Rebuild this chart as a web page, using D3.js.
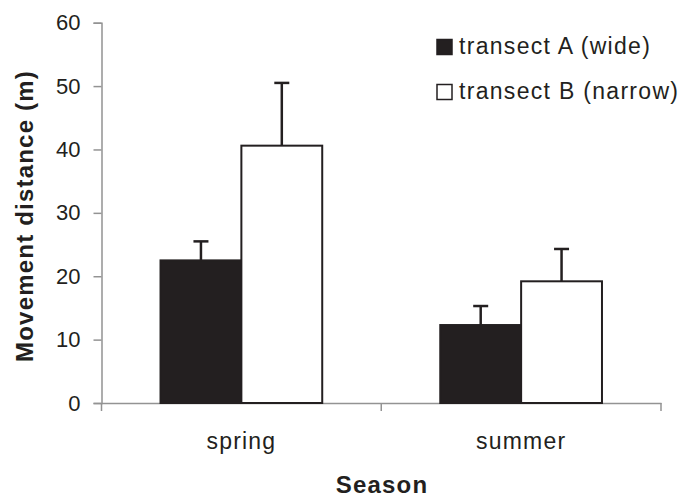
<!DOCTYPE html>
<html>
<head>
<meta charset="utf-8">
<script src="https://cdn.jsdelivr.net/npm/d3@7"></script>
<style>
  body { margin: 0; background: #fff; }
  text { font-family: "Liberation Sans", Arial, sans-serif; fill: #231f20; }
</style>
</head>
<body>
<div id="chart"></div>
<script>
var seasons = ["spring", "summer"];
var seriesNames = ["transect A (wide)", "transect B (narrow)"];
var meansA = [22.5, 12.3];
var meansB = [40.6, 19.2];
var errA = [3.0, 3.0];
var errB = [9.9, 5.1];
var yTicks = [0, 10, 20, 30, 40, 50, 60];

var w = 697, h = 498;
var margin = {left: 101.5, right: 36, top: 22.7, bottom: 95};

var svg = d3.select("#chart").append("svg")
    .attr("width", w)
    .attr("height", h);

var x = d3.scaleBand()
    .domain(seasons)
    .range([margin.left, w - margin.right])
    .paddingInner(0)
    .paddingOuter(0);

var inner = d3.scaleBand()
    .domain(seriesNames)
    .range([0, x.bandwidth()])
    .paddingOuter(0.73)
    .paddingInner(0);

var y = d3.scaleLinear()
    .domain([0, 60])
    .range([h - margin.bottom, margin.top]);

var axisColor = "#939393";
var ink = "#231f20";

// y axis
var yAxis = svg.append("g")
    .attr("transform", "translate(" + margin.left + ",0)")
    .call(d3.axisLeft(y).tickValues(yTicks).tickSize(8).tickPadding(13));
yAxis.select(".domain").attr("stroke", axisColor).attr("stroke-width", 1.5);
yAxis.selectAll(".tick line").attr("stroke", axisColor).attr("stroke-width", 1.5);
yAxis.selectAll(".tick text").attr("font-size", "22px").style("fill", ink)
    .attr("font-family", "Liberation Sans, Arial, sans-serif");

// x axis
var xAxis = svg.append("g")
    .attr("transform", "translate(0," + y(0) + ")")
    .call(d3.axisBottom(x).tickSize(0).tickPadding(30));
xAxis.select(".domain").attr("stroke", axisColor).attr("stroke-width", 1.5);
xAxis.selectAll(".tick text").attr("font-size", "23px").style("fill", ink)
    .style("letter-spacing", "1.2px")
    .attr("font-family", "Liberation Sans, Arial, sans-serif");
// category boundary ticks
var bounds = [x(seasons[0]), x(seasons[1]), x(seasons[1]) + x.bandwidth()];
svg.selectAll(".btick")
    .data(bounds)
    .enter()
    .append("line")
    .attr("x1", function(d) {return d;})
    .attr("x2", function(d) {return d;})
    .attr("y1", y(0))
    .attr("y2", y(0) + 8)
    .attr("stroke", axisColor)
    .attr("stroke-width", 1.5);

var rows = seasons.map(function(s, i) {
    return [
        {season: s, name: seriesNames[0], value: meansA[i], err: errA[i], fill: ink},
        {season: s, name: seriesNames[1], value: meansB[i], err: errB[i], fill: "#fff"}
    ];
});
var bars = [].concat.apply([], rows);

// error bars (drawn first so the bar outline sits on top)
var eb = svg.selectAll(".err")
    .data(bars)
    .enter()
    .append("g");
eb.append("line")
    .attr("x1", function(d) {return x(d.season) + inner(d.name) + inner.bandwidth() / 2;})
    .attr("x2", function(d) {return x(d.season) + inner(d.name) + inner.bandwidth() / 2;})
    .attr("y1", function(d) {return y(d.value);})
    .attr("y2", function(d) {return y(d.value + d.err);})
    .attr("stroke", ink)
    .attr("stroke-width", 2.5);
eb.append("line")
    .attr("x1", function(d) {return x(d.season) + inner(d.name) + inner.bandwidth() / 2 - 7.5;})
    .attr("x2", function(d) {return x(d.season) + inner(d.name) + inner.bandwidth() / 2 + 7.5;})
    .attr("y1", function(d) {return y(d.value + d.err);})
    .attr("y2", function(d) {return y(d.value + d.err);})
    .attr("stroke", ink)
    .attr("stroke-width", 2.5);

// bars
svg.selectAll(".bar")
    .data(bars)
    .enter()
    .append("rect")
    .attr("class", "bar")
    .attr("x", function(d) {return x(d.season) + inner(d.name);})
    .attr("y", function(d) {return y(d.value);})
    .attr("width", inner.bandwidth())
    .attr("height", function(d) {return y(0) - y(d.value);})
    .attr("fill", function(d) {return d.fill;})
    .attr("stroke", ink)
    .attr("stroke-width", 2);

// axis titles
svg.append("text")
    .attr("x", 382)
    .attr("y", 493)
    .attr("text-anchor", "middle")
    .attr("font-size", "24px")
    .style("letter-spacing", "1.2px")
    .style("font-weight", "bold")
    .text("Season");

svg.append("text")
    .attr("transform", "translate(33,216) rotate(-90)")
    .attr("text-anchor", "middle")
    .attr("font-size", "24px")
    .style("letter-spacing", "1.2px")
    .style("font-weight", "bold")
    .text("Movement distance (m)");

// legend
var legend = svg.selectAll(".legend")
    .data(seriesNames)
    .enter()
    .append("g")
    .attr("transform", function(d, i) {return "translate(437," + (39.5 + i * 45) + ")";});
legend.append("rect")
    .attr("width", 15)
    .attr("height", 15)
    .attr("fill", function(d, i) {return i === 0 ? ink : "#fff";})
    .attr("stroke", ink)
    .attr("stroke-width", 1.5);
legend.append("text")
    .attr("x", 22)
    .attr("y", 14.5)
    .attr("font-size", "23px")
    .style("letter-spacing", "1.3px")
    .text(function(d) {return d;});
</script>
</body>
</html>
